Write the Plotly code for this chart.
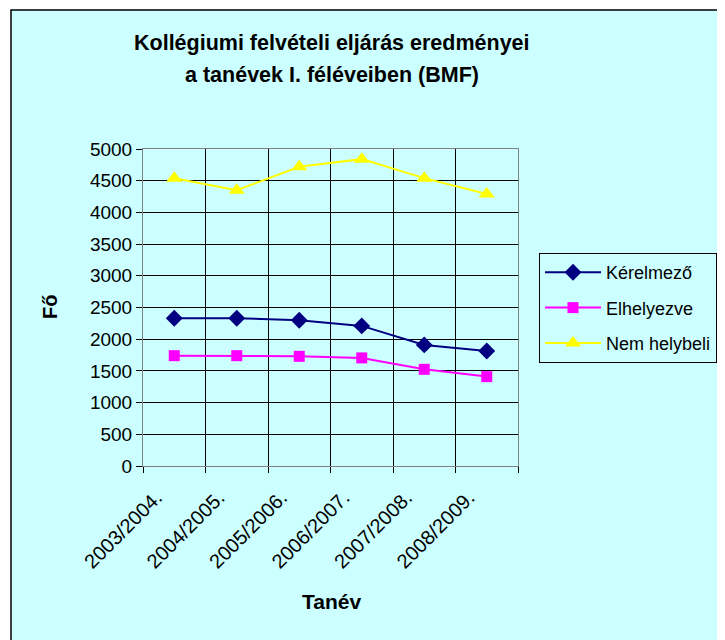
import plotly.graph_objects as go

categories = ["2003/2004.", "2004/2005.", "2005/2006.", "2006/2007.", "2007/2008.", "2008/2009."]
kerelmezo = [2330, 2330, 2300, 2210, 1910, 1815]
elhelyezve = [1740, 1740, 1730, 1705, 1525, 1410]
nem_helybeli = [4540, 4350, 4720, 4840, 4540, 4290]
series_names = ["Kérelmező", "Elhelyezve", "Nem helybeli"]
y_ticks = list(range(0, 5001, 500))

FONT = "Arial, 'Liberation Sans', sans-serif"
BG = "#CCFFFF"

# page body margin offset (browser default)
OFF = 8
W, H = 725, 640
# plot area in screen pixels
L, R, T, B = 143, 518, 149, 466
pw, ph = R - L, B - T

def px(x):
    return (x - L) / pw

def py(y):
    return (B - y) / ph

fig = go.Figure()
styles = [
    dict(color="#000080", symbol="diamond", size=13),
    dict(color="#FF00FF", symbol="square", size=11),
    dict(color="#FFFF00", symbol="triangle-up", size=14),
]
for name, vals, st in zip(series_names, [kerelmezo, elhelyezve, nem_helybeli], styles):
    fig.add_trace(go.Scatter(
        x=categories, y=vals, name=name, mode="lines+markers",
        legendgroup=name,
        line=dict(color=st["color"], width=2),
        marker=dict(color=st["color"], symbol=st["symbol"], size=st["size"]),
    ))

fig.update_layout(
    width=W, height=H,
    margin=dict(l=L - OFF, r=W - R + OFF, t=T - OFF, b=H - B + OFF),
    paper_bgcolor="white",
    plot_bgcolor="#C0C0C0",
    font=dict(family=FONT, size=16, color="black"),
    showlegend=True,
    legend=dict(
        x=px(539), y=py(253), xanchor="left", yanchor="top",
        bgcolor=BG, bordercolor="black", borderwidth=1,
        font=dict(family=FONT, size=18, color="black"),
        tracegroupgap=9, itemwidth=56,
    ),
    xaxis=dict(
        type="category", tickson="boundaries", showgrid=True, gridcolor="black", gridwidth=1,
        ticks="outside", ticklen=6, tickcolor="black", tickangle=-45,
        ticklabelstandoff=11, ticklabelshift=-18,
        showline=True, linecolor="#808080", linewidth=1, mirror=True,
        tickfont=dict(family=FONT, size=20, color="black"),
        range=[-0.5, 5.5],
    ),
    yaxis=dict(
        range=[0, 5000], tickvals=y_ticks, showgrid=True, gridcolor="black", gridwidth=1,
        ticks="outside", ticklen=6, tickcolor="black",
        showline=True, linecolor="#808080", linewidth=1, mirror=True,
        tickfont=dict(family=FONT, size=19, color="black"),
        zeroline=False,
    ),
    shapes=[dict(
        type="rect", xref="paper", yref="paper", layer="below",
        x0=px(11), x1=px(760), y0=py(680), y1=py(10),
        fillcolor=BG, line=dict(color="black", width=1.5),
    )],
    annotations=[
        dict(text="<b>Kollégiumi felvételi eljárás eredményei</b>", xref="paper", yref="paper",
             x=px(332), y=py(43), xanchor="center", yanchor="middle", showarrow=False,
             font=dict(family=FONT, size=21.5, color="black")),
        dict(text="<b>a tanévek I. féléveiben (BMF)</b>", xref="paper", yref="paper",
             x=px(332), y=py(75), xanchor="center", yanchor="middle", showarrow=False,
             font=dict(family=FONT, size=21.5, color="black")),
        dict(text="<b>Fő</b>", xref="paper", yref="paper", textangle=-90,
             x=px(50), y=py(307), xanchor="center", yanchor="middle", showarrow=False,
             font=dict(family=FONT, size=20, color="black")),
        dict(text="<b>Tanév</b>", xref="paper", yref="paper",
             x=px(331), y=py(601), xanchor="center", yanchor="middle", showarrow=False,
             font=dict(family=FONT, size=21, color="black")),
    ],
)

fig.write_html("out.html")
